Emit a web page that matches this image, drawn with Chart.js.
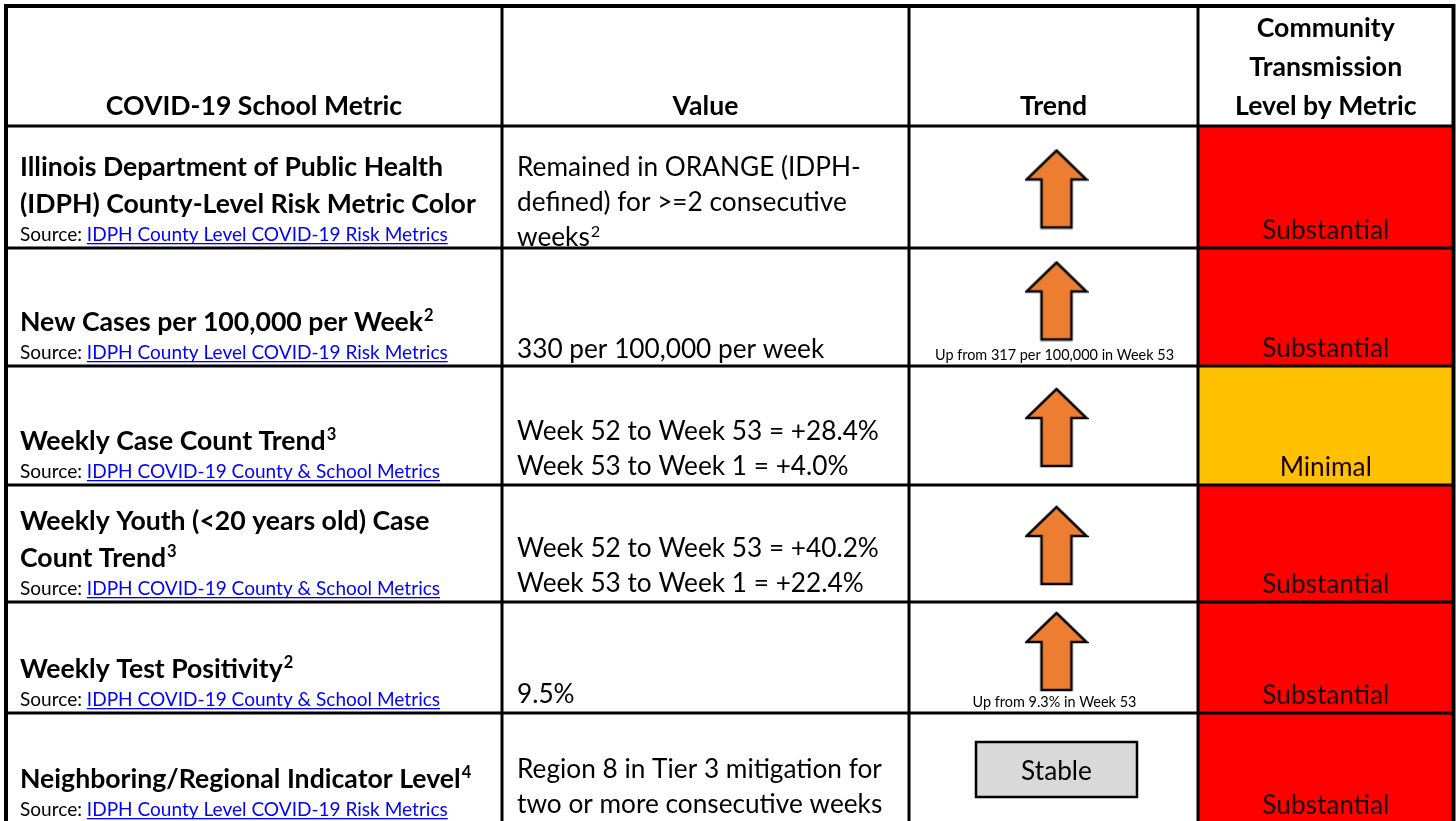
<!DOCTYPE html>
<html>
<head>
<meta charset="utf-8">
<script src="https://cdn.jsdelivr.net/npm/chart.js@4"></script>
<style>
  html, body { margin: 0; padding: 0; background: #fff; overflow: hidden; }
  canvas { display: block; }
</style>
</head>
<body>
<canvas id="metricTable"></canvas>
<script>
// table content
const headers = [
  ["COVID-19 School Metric"],
  ["Value"],
  ["Trend"],
  ["Community", "Transmission", "Level by Metric"],
];
const metrics = [
  ["Illinois Department of Public Health", "(IDPH) County-Level Risk Metric Color"],
  ["New Cases per 100,000 per Week^2"],
  ["Weekly Case Count Trend^3"],
  ["Weekly Youth (<20 years old) Case", "Count Trend^3"],
  ["Weekly Test Positivity^2"],
  ["Neighboring/Regional Indicator Level^4"],
];
const sources = [
  "IDPH County Level COVID-19 Risk Metrics",
  "IDPH County Level COVID-19 Risk Metrics",
  "IDPH COVID-19 County & School Metrics",
  "IDPH COVID-19 County & School Metrics",
  "IDPH COVID-19 County & School Metrics",
  "IDPH County Level COVID-19 Risk Metrics",
];
const values = [
  ["Remained in ORANGE (IDPH-", "defined) for >=2 consecutive", "weeks^2"],
  ["330 per 100,000 per week"],
  ["Week 52 to Week 53 = +28.4%", "Week 53 to Week 1 = +4.0%"],
  ["Week 52 to Week 53 = +40.2%", "Week 53 to Week 1 = +22.4%"],
  ["9.5%"],
  ["Region 8 in Tier 3 mitigation for", "two or more consecutive weeks"],
];
const trends = ["up", "up", "up", "up", "up", "stable"];
const trendNotes = ["", "Up from 317 per 100,000 in Week 53", "", "", "Up from 9.3% in Week 53", ""];
const levels = ["Substantial", "Substantial", "Minimal", "Substantial", "Substantial", "Substantial"];

// layout (scale units = page pixels)
const colEdges = [6, 502, 909, 1198, 1453.5];
const rowEdges = [6, 126, 248, 366, 485, 602, 713, 823];
const valueGap = [2, 8, 10, 10, 10, 10];
const levelColors = { Substantial: "#ff0000", Minimal: "#ffc000" };
const FONT = "Lato, 'Open Sans', sans-serif";

const measure = document.createElement("canvas").getContext("2d");
function fitSize(weight, sample, width) {
  measure.font = weight + " 100px " + FONT;
  return 100 * width / measure.measureText(sample).width;
}
const boldSize = fitSize("bold", "(IDPH) County-Level Risk Metric Color", 456);
const bodySize = fitSize("normal", "Week 52 to Week 53 = +28.4%", 362);
const srcSize = fitSize("normal", "Source: IDPH County Level COVID-19 Risk Metrics", 428);
const noteSize = fitSize("normal", "Up from 9.3% in Week 53", 164);

// arrow marker used as the point style of the trend dataset
const arrowImg = document.createElement("canvas");
arrowImg.width = 64;
arrowImg.height = 81;
(function () {
  const a = arrowImg.getContext("2d");
  a.beginPath();
  a.moveTo(32, 2);
  a.lineTo(62, 31);
  a.lineTo(47, 31);
  a.lineTo(47, 79);
  a.lineTo(17, 79);
  a.lineTo(17, 31);
  a.lineTo(2, 31);
  a.closePath();
  a.fillStyle = "#ed7d31";
  a.fill();
  a.lineWidth = 2.5;
  a.lineJoin = "miter";
  a.strokeStyle = "#000";
  a.stroke();
})();

const trendX = (colEdges[2] + colEdges[3]) / 2 + 3;
const arrowPoints = [];
trends.forEach(function (t, i) {
  if (t !== "up") return;
  const mid = (rowEdges[i + 1] + rowEdges[i + 2]) / 2;
  arrowPoints.push({ x: trendX, y: mid + (trendNotes[i] ? -6 : 2) });
});

// draw a line, with an optional trailing ^n superscript
function drawLine(ctx, text, x, y, weight, size, align) {
  let sup = "";
  const m = text.match(/\^(\d)$/);
  if (m) { sup = m[1]; text = text.slice(0, -2); }
  ctx.font = weight + " " + size + "px " + FONT;
  const w = ctx.measureText(text).width;
  ctx.font = weight + " " + size * 0.62 + "px " + FONT;
  const sw = sup ? ctx.measureText(sup).width : 0;
  let left = x;
  if (align === "center") left = x - (w + sw) / 2;
  ctx.textAlign = "left";
  ctx.font = weight + " " + size + "px " + FONT;
  ctx.fillText(text, left, y);
  if (sup) {
    ctx.font = weight + " " + size * 0.62 + "px " + FONT;
    ctx.fillText(sup, left + w + 1, y - size * 0.36);
  }
}

const tablePlugin = {
  id: "tablePlugin",
  beforeDatasetsDraw(chart) {
    const ctx = chart.ctx;
    const X = v => chart.scales.x.getPixelForValue(v);
    const Y = v => chart.scales.y.getPixelForValue(v);
    ctx.save();
    ctx.textBaseline = "alphabetic";

    // level cells
    levels.forEach(function (lv, i) {
      ctx.fillStyle = levelColors[lv];
      ctx.fillRect(X(colEdges[3]), Y(rowEdges[i + 1]), X(colEdges[4]) - X(colEdges[3]), Y(rowEdges[i + 2]) - Y(rowEdges[i + 1]));
    });

    // stable box
    trends.forEach(function (t, i) {
      if (t !== "stable") return;
      const top = Y(rowEdges[i + 1]) + 29;
      const cx = X(trendX);
      ctx.fillStyle = "#d9d9d9";
      ctx.fillRect(cx - 80.5, top, 161, 55);
      ctx.lineWidth = 2.5;
      ctx.strokeStyle = "#000";
      ctx.strokeRect(cx - 80.5, top, 161, 55);
      ctx.fillStyle = "#000";
      drawLine(ctx, "Stable", cx, top + 38, "normal", bodySize, "center");
    });

    // grid lines
    ctx.strokeStyle = "#000";
    ctx.lineWidth = 3;
    for (let r = 1; r < rowEdges.length - 1; r++) {
      ctx.beginPath();
      ctx.moveTo(X(colEdges[0]), Y(rowEdges[r]));
      ctx.lineTo(X(colEdges[4]), Y(rowEdges[r]));
      ctx.stroke();
    }
    for (let c = 1; c < colEdges.length - 1; c++) {
      ctx.beginPath();
      ctx.moveTo(X(colEdges[c]), Y(rowEdges[0]));
      ctx.lineTo(X(colEdges[c]), Y(rowEdges[rowEdges.length - 1]) + 10);
      ctx.stroke();
    }
    ctx.lineWidth = 4;
    ctx.beginPath();
    ctx.moveTo(X(colEdges[0]), Y(rowEdges[rowEdges.length - 1]) + 10);
    ctx.lineTo(X(colEdges[0]), Y(rowEdges[0]));
    ctx.lineTo(X(colEdges[4]), Y(rowEdges[0]));
    ctx.lineTo(X(colEdges[4]), Y(rowEdges[rowEdges.length - 1]) + 10);
    ctx.stroke();

    // header
    ctx.fillStyle = "#000";
    headers.forEach(function (lines, c) {
      const cx = (X(colEdges[c]) + X(colEdges[c + 1])) / 2;
      const bottom = Y(rowEdges[1]) - 11;
      lines.forEach(function (ln, k) {
        drawLine(ctx, ln, cx, bottom - (lines.length - 1 - k) * 39.2, "bold", boldSize, "center");
      });
    });

    // body rows
    metrics.forEach(function (lines, i) {
      const bottom = Y(rowEdges[i + 2]);
      const left = X(colEdges[0]) + 14;
      const srcY = bottom - 7;
      ctx.fillStyle = "#000";
      lines.forEach(function (ln, k) {
        drawLine(ctx, ln, left, srcY - 28.5 - (lines.length - 1 - k) * 36.5, "bold", boldSize, "left");
      });
      ctx.font = "normal " + srcSize + "px " + FONT;
      ctx.textAlign = "left";
      ctx.fillText("Source: ", left, srcY);
      const lx = left + ctx.measureText("Source: ").width;
      const lw = ctx.measureText(sources[i]).width;
      ctx.fillStyle = "#0000ff";
      ctx.fillText(sources[i], lx, srcY);
      ctx.fillRect(lx, srcY + 2, lw, 1.3);

      // value column
      ctx.fillStyle = "#000";
      const vx = X(colEdges[1]) + 15;
      const vb = bottom - valueGap[i];
      values[i].forEach(function (ln, k) {
        drawLine(ctx, ln, vx, vb - (values[i].length - 1 - k) * 35, "normal", bodySize, "left");
      });

      // trend note
      if (trendNotes[i]) {
        drawLine(ctx, trendNotes[i], X(trendX) - 2, bottom - 6, "normal", noteSize, "center");
      }

      // level text
      ctx.fillStyle = "#1a0000";
      drawLine(ctx, levels[i], (X(colEdges[3]) + X(colEdges[4])) / 2, bottom - 9, "normal", bodySize, "center");
    });
    ctx.restore();
  },
};

const canvas = document.getElementById("metricTable");
canvas.width = 1456;
canvas.height = 821;
const ctx = canvas.getContext("2d");
const metricChart = new Chart(ctx, {
  type: "scatter",
  data: {
    datasets: [
      {
        label: "Trend",
        data: arrowPoints,
        pointStyle: arrowImg,
        pointRadius: 30,
        clip: false,
      },
    ],
  },
  options: {
    responsive: false,
    animation: false,
    events: [],
    layout: { padding: 0, autoPadding: false },
    scales: {
      x: { type: "linear", min: 0, max: 1456, display: false },
      y: { type: "linear", min: 0, max: 821, reverse: true, display: false },
    },
    plugins: {
      legend: { display: false },
      tooltip: { enabled: false },
    },
  },
  plugins: [tablePlugin],
});
</script>
</body>
</html>
